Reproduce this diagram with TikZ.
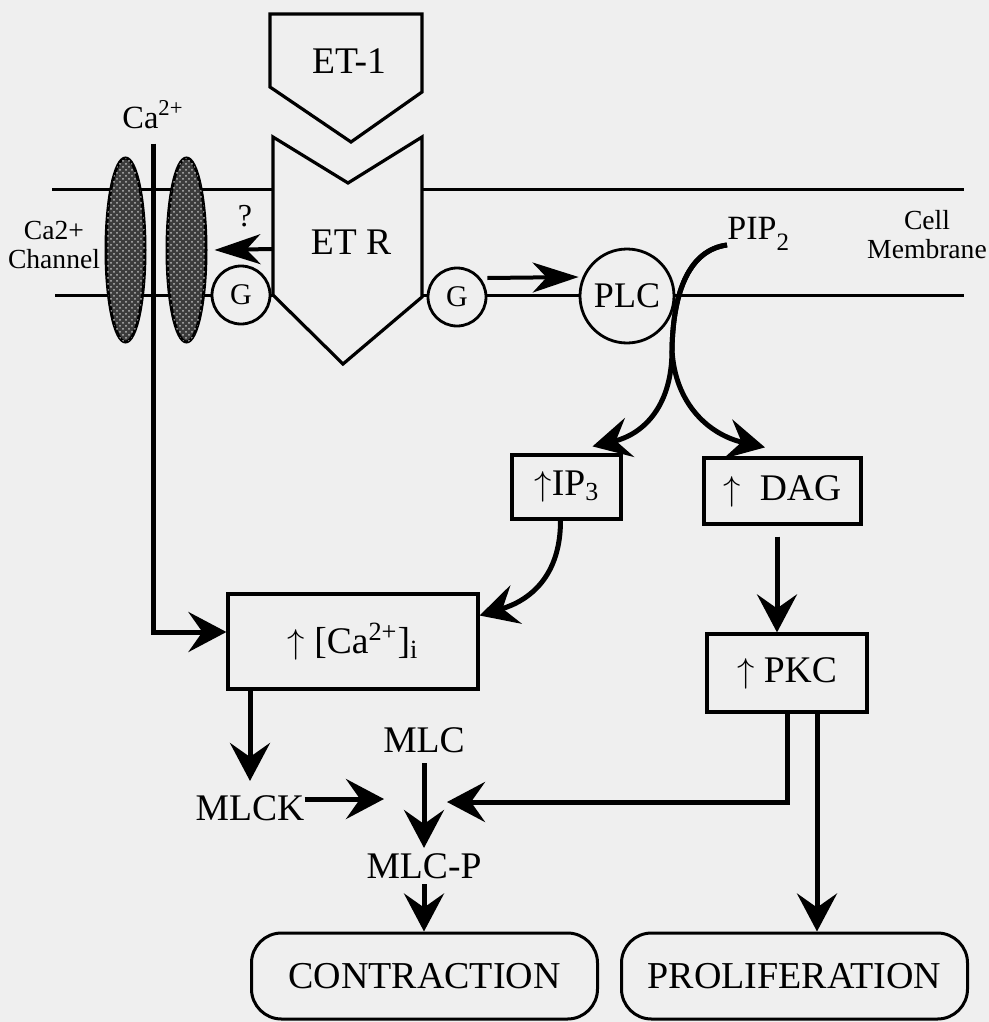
\documentclass[tikz,border=0pt]{standalone}
\usepackage{fontspec}
\setmainfont{Liberation Serif}
\usepackage{tikz}
\usetikzlibrary{shapes.geometric, arrows.meta, patterns}
\definecolor{paper}{RGB}{239,239,239}
\definecolor{chanfill}{RGB}{60,60,60}
\tikzstyle{txt} = [inner sep=0pt, font=\fontsize{18.8pt}{20pt}\selectfont]
\tikzstyle{small} = [inner sep=0pt, align=center, font=\fontsize{13.8pt}{14.5pt}\selectfont]
\tikzstyle{box} = [rectangle, draw, line width=1.6pt, fill=paper, inner sep=0pt, text centered, font=\fontsize{18.8pt}{20pt}\selectfont]
\tikzstyle{outcome} = [rectangle, rounded corners=15pt, draw, line width=1.5pt, fill=paper, minimum width=173pt, minimum height=43pt, font=\fontsize{19pt}{20pt}\selectfont]
\tikzstyle{gprot} = [circle, draw, line width=1.4pt, fill=paper, minimum size=29pt, inner sep=0pt, font=\fontsize{15pt}{16pt}\selectfont]
\tikzstyle{enzyme} = [circle, draw, line width=1.4pt, fill=paper, minimum size=47pt, inner sep=0pt, font=\fontsize{18pt}{19pt}\selectfont]
\tikzstyle{chan} = [ellipse, draw, line width=1.5pt, fill=chanfill, postaction={pattern=crosshatch dots, pattern color=gray!55}, minimum width=19.5pt, minimum height=92pt, inner sep=0pt]
\tikzstyle{outline} = [line width=1.6pt, fill=paper]
\tikzstyle{membrane} = [line width=1.5pt]
\tikzstyle{arrow} = [line width=2.5pt, -{Stealth[length=19pt, width=20pt, inset=7pt]}]
\tikzstyle{sidearrow} = [line width=2pt, -{Stealth[length=23pt, width=15pt, inset=7pt]}]

\begin{document}
\begin{tikzpicture}[x=0.5pt, y=-0.5pt]
            \useasboundingbox [fill=paper] (0,0) rectangle (989,1022);

            % membrane
            \draw [membrane] (52,189) -- (964,189);
            \draw [membrane] (55,295) -- (964,295);

            \node [chan] at (125.5,250) (chl) {};
            \node [chan] at (186.5,250) (chr) {};
            \node [small] at (54,245) (chlabel) {Ca2+\\Channel};
            \node [small] at (927,235) (memlabel) {Cell\\Membrane};

            % ligand and receptor
            \draw [outline] (270,14) -- (422,14) -- (422,92) -- (351,142) -- (270,87) -- cycle;
            \draw [outline] (273,137) -- (348,183) -- (422,137) -- (422,297) -- (343,364) -- (273,295) -- cycle;
            \node [txt] at (349,61) (et1) {ET-1};
            \node [txt] at (351,242) (etr) {ET R};
            \coordinate (etrleft) at (273,249);

            \node [gprot] at (241,295) (gl) {G};
            \node [gprot] at (457,297) (gr) {G};
            \node [enzyme] at (627,296) (plc) {PLC};
            \node [txt, anchor=base west, font=\fontsize{17pt}{18pt}\selectfont] at (727,239) (pip2) {PIP\raisebox{-5.5pt}{\fontsize{12.5pt}{13pt}\selectfont 2}};
            \node [txt, font=\fontsize{16pt}{17pt}\selectfont] at (245,216) (q) {?};
            \node [txt, anchor=base, font=\fontsize{16.2pt}{17pt}\selectfont] at (153,128) (caion) {Ca\textsuperscript{2+}};

            \node [box, minimum width=54.5pt, minimum height=32pt] at (566.5,487) (ip3) {$\uparrow$IP\raisebox{-2.5pt}{\fontsize{13pt}{13pt}\selectfont 3}};
            \node [box, minimum width=78.5pt, minimum height=33pt] at (782.5,491) (dag) {$\uparrow$\enspace DAG};
            \node [box, minimum width=80pt, minimum height=39pt] at (787,673) (pkc) {$\uparrow$ PKC};
            \node [box, minimum width=125pt, minimum height=47.5pt] at (353,641.5) (cabox) {$\uparrow$ [Ca\textsuperscript{2+}]\textsubscript{i}};

            \node [txt] at (424,740) (mlc) {MLC};
            \node [txt] at (250,808) (mlck) {MLCK};
            \node [txt] at (424,866) (mlcp) {MLC-P};
            \node [outcome] at (424.5,976) (contr) {CONTRACTION};
            \node [outcome] at (794.5,976) (prolif) {PROLIFERATION};

            \coordinate (kin) at (384,799);
            \coordinate (pin) at (447,802);
            \coordinate (dagout) at ([xshift=-2.75pt]dag.south);
            \coordinate (pkcr) at ([xshift=15pt]pkc.south);

            \draw [arrow, shorten <=7.5pt] (caion.south) |- ([yshift=4.75pt]cabox.west);
            \draw [sidearrow] (etrleft) -- ([xshift=3.5pt]chr.east);
            \draw [sidearrow] ([yshift=9.5pt]gr.east) -- ([yshift=9.5pt]plc.west);
            \draw [arrow] ([yshift=-3pt]pip2.base west) .. controls (690,250) and (673,290) .. (672,350) .. controls (672,410) and (640,435) .. ([xshift=13pt,yshift=3.5pt]ip3.north);
            \draw [arrow] ([yshift=-3pt]pip2.base west) .. controls (690,250) and (673,290) .. (672,350) .. controls (675,405) and (710,435) .. ([xshift=-8.75pt,yshift=4.5pt]dag.north);
            \draw [arrow] ([xshift=-3pt]ip3.south) .. controls +(0,56) and +(50,-15) .. ([yshift=13pt]cabox.east);
            \draw [arrow, shorten <=5.5pt] (dagout) -- (dagout |- pkc.north);
            \draw [arrow, shorten >=7pt] (cabox.south -| mlck) -- (mlck);
            \draw [arrow, shorten <=5pt, shorten >=2.5pt] (mlc) -- (mlcp);
            \draw [arrow] (mlck.east |- kin) -- (kin);
            \draw [arrow] (pkc.south) |- (pin);
            \draw [arrow, shorten <=2.5pt] (mlcp) -- (mlcp |- contr.north);
            \draw [arrow] (pkcr) -- (pkcr |- prolif.north);
\end{tikzpicture}
\end{document}
